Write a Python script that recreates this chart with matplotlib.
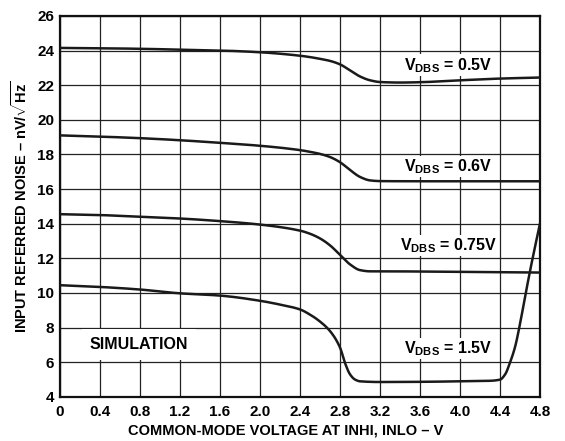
import matplotlib
matplotlib.use("Agg")
import matplotlib.pyplot as plt
import numpy as np

plt.rcParams["font.family"] = ["Liberation Sans", "DejaVu Sans"]
plt.rcParams["font.weight"] = "bold"
plt.rcParams["mathtext.fontset"] = "custom"
plt.rcParams["mathtext.rm"] = "Liberation Sans:bold"
plt.rcParams["mathtext.bf"] = "Liberation Sans:bold"
plt.rcParams["mathtext.it"] = "Liberation Sans:bold"

vdbs_05_x = [0, 0.4, 0.8, 1.2, 1.6, 2.0, 2.4, 2.5, 2.6, 2.7, 2.8, 2.9, 3.0, 3.1, 3.2, 3.4, 3.6, 4.0, 4.4, 4.8]
vdbs_05_y = [24.15, 24.13, 24.1, 24.05, 24.0, 23.9, 23.7, 23.62, 23.52, 23.4, 23.2, 22.85, 22.5, 22.28, 22.18,
             22.15, 22.17, 22.28, 22.38, 22.44]

vdbs_06_x = [0, 0.4, 0.8, 1.2, 1.6, 2.0, 2.4, 2.5, 2.6, 2.7, 2.8, 2.9, 3.0, 3.1, 3.2, 3.6, 4.0, 4.4, 4.8]
vdbs_06_y = [19.1, 19.03, 18.94, 18.82, 18.67, 18.5, 18.25, 18.15, 18.03, 17.85, 17.55, 17.1, 16.7, 16.5, 16.46,
             16.45, 16.45, 16.45, 16.45]

vdbs_075_x = [0, 0.4, 0.8, 1.2, 1.6, 2.0, 2.4, 2.5, 2.6, 2.7, 2.8, 2.9, 3.0, 3.1, 3.2, 3.6, 4.0, 4.4, 4.8]
vdbs_075_y = [14.55, 14.5, 14.4, 14.3, 14.15, 13.95, 13.6, 13.42, 13.15, 12.75, 12.2, 11.65, 11.32, 11.25, 11.25,
              11.24, 11.22, 11.2, 11.18]

vdbs_15_x = [0, 0.4, 0.8, 1.2, 1.6, 2.0, 2.2, 2.4, 2.5, 2.6, 2.7, 2.8, 2.85, 2.9, 2.95, 3.0, 3.2, 3.6, 4.0, 4.3,
             4.4, 4.45, 4.5, 4.55, 4.6, 4.65, 4.7, 4.75, 4.8]
vdbs_15_y = [10.45, 10.35, 10.2, 9.98, 9.85, 9.55, 9.33, 9.05, 8.75, 8.35, 7.8, 6.85, 5.95, 5.3, 5.0, 4.9, 4.86,
             4.87, 4.9, 4.93, 5.0, 5.3, 6.0, 6.9, 8.25, 9.8, 11.3, 12.7, 14.05]

curve_x = [vdbs_05_x, vdbs_06_x, vdbs_075_x, vdbs_15_x]
curve_y = [vdbs_05_y, vdbs_06_y, vdbs_075_y, vdbs_15_y]
curve_labels = [r"V$_{\mathregular{DBS}}$ = 0.5V", r"V$_{\mathregular{DBS}}$ = 0.6V",
                r"V$_{\mathregular{DBS}}$ = 0.75V", r"V$_{\mathregular{DBS}}$ = 1.5V"]
label_y = [23.15, 17.3, 12.75, 6.8]

x_ticks = [0, 0.4, 0.8, 1.2, 1.6, 2.0, 2.4, 2.8, 3.2, 3.6, 4.0, 4.4, 4.8]
x_tick_labels = ["0", "0.4", "0.8", "1.2", "1.6", "2.0", "2.4", "2.8", "3.2", "3.6", "4.0", "4.4", "4.8"]
y_ticks = [4, 6, 8, 10, 12, 14, 16, 18, 20, 22, 24, 26]


def smooth(xs, ys, n=12):
    # monotone cubic (pchip style) through the read points
    x = np.asarray(xs, float)
    y = np.asarray(ys, float)
    h = np.diff(x)
    d = np.diff(y) / h
    m = np.zeros_like(y)
    m[0], m[-1] = d[0], d[-1]
    for k in range(1, len(x) - 1):
        if d[k - 1] * d[k] <= 0:
            m[k] = 0.0
        else:
            w1 = 2 * h[k] + h[k - 1]
            w2 = h[k] + 2 * h[k - 1]
            m[k] = (w1 + w2) / (w1 / d[k - 1] + w2 / d[k])
    out_x, out_y = [], []
    for k in range(len(x) - 1):
        t = np.linspace(0, 1, n, endpoint=False)
        h00 = 2 * t ** 3 - 3 * t ** 2 + 1
        h10 = t ** 3 - 2 * t ** 2 + t
        h01 = -2 * t ** 3 + 3 * t ** 2
        h11 = t ** 3 - t ** 2
        out_x.extend(x[k] + t * h[k])
        out_y.extend(h00 * y[k] + h10 * h[k] * m[k] + h01 * y[k + 1] + h11 * h[k] * m[k + 1])
    out_x.append(x[-1])
    out_y.append(y[-1])
    return out_x, out_y


fig = plt.figure(figsize=(5.65, 4.41), dpi=100)
ax = fig.add_axes([0.106, 0.1, 0.85, 0.864])

for xs, ys in zip(curve_x, curve_y):
    sx, sy = smooth(xs, ys)
    ax.plot(sx, sy, color="#1a1a1a", lw=1.8, zorder=3, solid_capstyle="butt")

for txt, ly in zip(curve_labels, label_y):
    ax.text(3.88, ly, txt, ha="center", va="center", fontsize=11.5, fontweight="bold", zorder=4,
            bbox=dict(facecolor="white", edgecolor="none", pad=1.0))

ax.text(0.3, 7.0, "SIMULATION", ha="left", va="center", fontsize=11.5, fontweight="bold", zorder=4,
        bbox=dict(facecolor="white", edgecolor="none", boxstyle="square,pad=0.5"))

ax.set_xlim(0, 4.8)
ax.set_ylim(4, 26)
ax.set_xticks(x_ticks)
ax.set_xticklabels(x_tick_labels)
ax.set_yticks(y_ticks)
ax.tick_params(length=0, labelsize=11)
ax.tick_params(axis="x", pad=6)
ax.tick_params(axis="y", pad=4)
for lab in ax.get_xticklabels() + ax.get_yticklabels():
    lab.set_fontweight("bold")
ax.grid(True, color="#222222", lw=0.9)
ax.set_axisbelow(True)
for sp in ax.spines.values():
    sp.set_linewidth(1.6)
    sp.set_color("#111111")

ax.set_xlabel("COMMON-MODE VOLTAGE AT INHI, INLO – V", fontsize=10.5, fontweight="bold")
ax.xaxis.set_label_coords(0.47, -0.07)
ax.set_ylabel(r"INPUT REFERRED NOISE – nV/$\sqrt{\mathregular{Hz}}$", fontsize=10.5, fontweight="bold", labelpad=5)

fig.savefig("out.png", dpi=100)
